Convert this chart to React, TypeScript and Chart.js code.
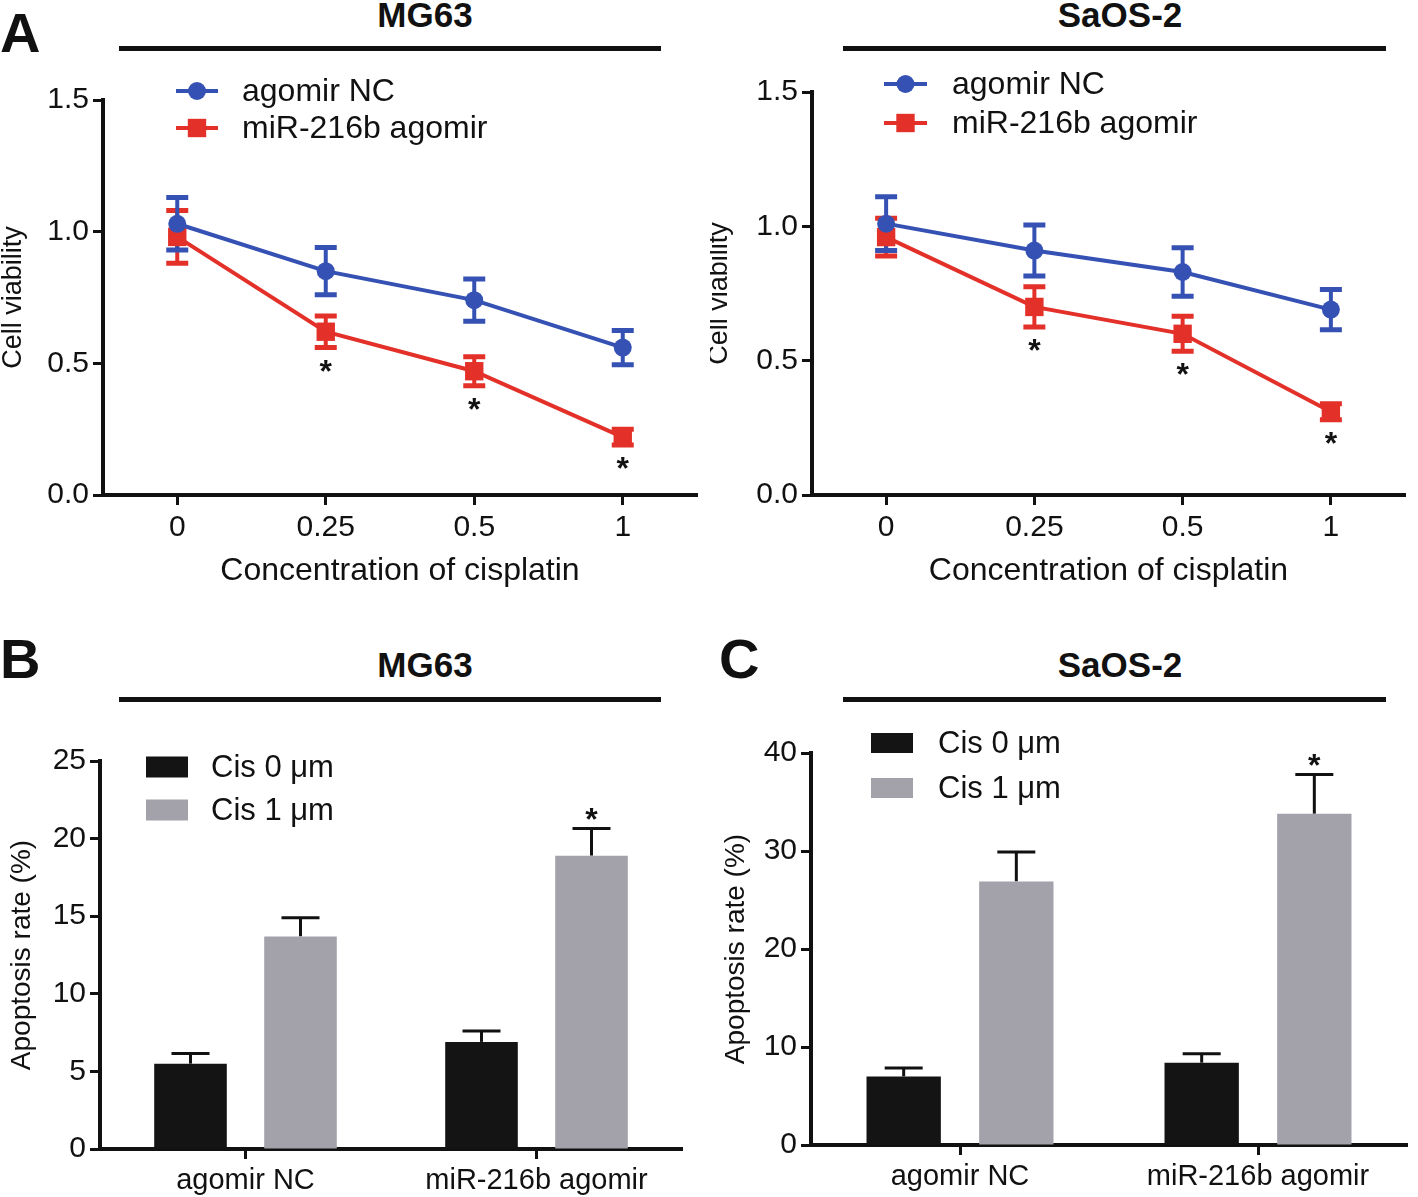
import React, { useEffect, useRef } from 'react';
import { Chart, registerables } from 'chart.js';

Chart.register(...registerables);

const FONT = "'Liberation Sans', Arial, Helvetica, sans-serif";
const INK = '#111111';
const BLUE = '#3551b3';
const RED = '#e3312a';
const BLACK_BAR = '#141414';
const GRAY_BAR = '#a3a2aa';

// ---------- Panel A: cell viability ----------
const concentrations = ['0', '0.25', '0.5', '1'];
const viabilityTicks = [0, 0.5, 1.0, 1.5];
const seriesNames = ['agomir NC', 'miR-216b agomir'];

const mg63NC = [1.03, 0.85, 0.74, 0.56];
const mg63NCErr = [0.1, 0.09, 0.08, 0.065];
const mg63Agomir = [0.98, 0.62, 0.47, 0.22];
const mg63AgomirErr = [0.1, 0.06, 0.055, 0.03];
const mg63Sig = [false, true, true, true];

const saosNC = [1.01, 0.91, 0.83, 0.69];
const saosNCErr = [0.1, 0.095, 0.09, 0.075];
const saosAgomir = [0.96, 0.7, 0.6, 0.31];
const saosAgomirErr = [0.07, 0.075, 0.065, 0.03];
const saosSig = [false, true, true, true];

// ---------- Panels B, C: apoptosis ----------
const groups = ['agomir NC', 'miR-216b agomir'];
const cisNames = ['Cis 0 μm', 'Cis 1 μm'];

const mg63Cis0 = [5.5, 6.9];
const mg63Cis0Err = [0.65, 0.7];
const mg63Cis1 = [13.7, 18.9];
const mg63Cis1Err = [1.2, 1.75];
const mg63Cis1Sig = [false, true];
const mg63ApoTicks = [0, 5, 10, 15, 20, 25];

const saosCis0 = [7.0, 8.4];
const saosCis0Err = [0.85, 0.9];
const saosCis1 = [26.9, 33.8];
const saosCis1Err = [3.0, 4.0];
const saosCis1Sig = [false, true];
const saosApoTicks = [0, 10, 20, 30, 40];

// ---------- plugin: error bars, asterisks, legend ----------
const overlayPlugin = {
  id: 'overlay',
  beforeDatasetsDraw(chart: any) {
    const ctx = chart.ctx;
    const yScale = chart.scales.y;
    const n = chart.data.datasets.length;
    for (let di = n - 1; di >= 0; di--) {
      const ds: any = chart.data.datasets[di];
      if (!ds.errors) continue;
      const meta = chart.getDatasetMeta(di);
      ds.data.forEach((v: number, i: number) => {
        const el = meta.data[i];
        if (!el) return;
        const x = el.x;
        const e = ds.errors[i] || 0;
        const yTop = yScale.getPixelForValue(v + e);
        const yBot = ds.errMode === 'up' ? yScale.getPixelForValue(v) : yScale.getPixelForValue(v - e);
        ctx.save();
        ctx.strokeStyle = ds.errColor;
        ctx.lineCap = 'butt';
        ctx.lineWidth = ds.errWidth;
        ctx.beginPath();
        ctx.moveTo(x, yTop);
        ctx.lineTo(x, yBot);
        ctx.stroke();
        ctx.lineWidth = ds.capThickness;
        ctx.beginPath();
        ctx.moveTo(x - ds.capWidth / 2, yTop);
        ctx.lineTo(x + ds.capWidth / 2, yTop);
        if (ds.errMode !== 'up') {
          ctx.moveTo(x - ds.capWidth / 2, yBot);
          ctx.lineTo(x + ds.capWidth / 2, yBot);
        }
        ctx.stroke();
        ctx.restore();
      });
    }
  },
  afterDraw(chart: any, _args: any, opts: any) {
    const ctx = chart.ctx;
    const yScale = chart.scales.y;
    chart.data.datasets.forEach((ds: any, di: number) => {
      if (!ds.sig) return;
      const meta = chart.getDatasetMeta(di);
      ds.data.forEach((v: number, i: number) => {
        if (!ds.sig[i]) return;
        const x = meta.data[i].x;
        const e = ds.errors ? ds.errors[i] : 0;
        const center = ds.errMode === 'up'
          ? yScale.getPixelForValue(v + e) - 17
          : yScale.getPixelForValue(v - e) + 16;
        ctx.save();
        ctx.fillStyle = INK;
        ctx.font = `bold 32px ${FONT}`;
        ctx.textAlign = 'center';
        ctx.textBaseline = 'alphabetic';
        ctx.fillText('*', x, center + 18);
        ctx.restore();
      });
    });
    const lg = opts && opts.legend;
    if (!lg) return;
    chart.data.datasets.forEach((ds: any, i: number) => {
      const cy = lg.y + i * lg.gap;
      ctx.save();
      if (chart.config.type === 'line') {
        ctx.strokeStyle = ds.borderColor;
        ctx.lineWidth = ds.borderWidth;
        ctx.beginPath();
        ctx.moveTo(lg.x, cy);
        ctx.lineTo(lg.x + lg.w, cy);
        ctx.stroke();
        ctx.fillStyle = ds.pointBackgroundColor;
        const mx = lg.x + lg.w / 2;
        if (ds.pointStyle === 'rect') {
          const s = ds.pointRadius * Math.SQRT1_2;
          ctx.fillRect(mx - s, cy - s, 2 * s, 2 * s);
        } else {
          ctx.beginPath();
          ctx.arc(mx, cy, ds.pointRadius, 0, Math.PI * 2);
          ctx.fill();
        }
      } else {
        ctx.fillStyle = ds.backgroundColor;
        ctx.fillRect(lg.x, cy - lg.h / 2, lg.w, lg.h);
      }
      ctx.fillStyle = INK;
      ctx.font = `${lg.size}px ${FONT}`;
      ctx.textAlign = 'left';
      ctx.textBaseline = 'middle';
      ctx.fillText(ds.label, lg.textX, cy + 1);
      ctx.restore();
    });
  },
};

function yAxis(ticks: number[], fmt: (v: number) => string, width: number, title: string, titleSize: number, titleLH: number, titlePad: number) {
  return {
    type: 'linear',
    min: ticks[0],
    max: ticks[ticks.length - 1],
    afterBuildTicks: (s: any) => {
      s.ticks = ticks.map((v) => ({ value: v }));
    },
    afterFit: (s: any) => {
      s.width = width;
    },
    grid: {
      display: true,
      drawOnChartArea: false,
      drawTicks: true,
      tickLength: 10,
      tickWidth: 3,
      tickColor: INK,
      color: INK,
    },
    border: { display: true, color: INK, width: 4 },
    ticks: {
      color: INK,
      font: { family: FONT, size: 30 },
      padding: 4,
      callback: (v: any) => fmt(Number(v)),
    },
    title: {
      display: true,
      text: title,
      color: INK,
      font: { family: FONT, size: titleSize, lineHeight: titleLH },
      padding: { top: titlePad, bottom: 0 },
    },
  };
}

function xAxis(height: number, tickSize: number, title?: string, titlePad = 0) {
  return {
    type: 'category',
    offset: true,
    afterFit: (s: any) => {
      s.height = height;
    },
    grid: {
      display: true,
      offset: false,
      drawOnChartArea: false,
      drawTicks: true,
      tickLength: 10,
      tickWidth: 3,
      tickColor: INK,
      color: INK,
    },
    border: { display: true, color: INK, width: 4 },
    ticks: {
      color: INK,
      font: { family: FONT, size: tickSize },
      padding: 5,
      maxRotation: 0,
      autoSkip: false,
    },
    title: title
      ? {
          display: true,
          text: title,
          color: INK,
          font: { family: FONT, size: 32, lineHeight: 1.2 },
          padding: { top: 0, bottom: titlePad },
        }
      : { display: false },
  };
}

function lineDataset(label: string, data: number[], errors: number[], color: string, style: string, radius: number, sig?: boolean[]) {
  return {
    label,
    data,
    errors,
    sig,
    errMode: 'both',
    errColor: color,
    errWidth: 4,
    capThickness: 5,
    capWidth: 22,
    borderColor: color,
    backgroundColor: color,
    borderWidth: 4,
    pointStyle: style,
    pointRadius: radius,
    pointBorderWidth: 0,
    pointBackgroundColor: color,
    tension: 0,
  };
}

function barDataset(label: string, data: number[], errors: number[], color: string, sig?: boolean[]) {
  return {
    label,
    data,
    errors,
    sig,
    errMode: 'up',
    errColor: INK,
    errWidth: 3,
    capThickness: 3,
    capWidth: 38,
    backgroundColor: color,
    borderWidth: 0,
    categoryPercentage: 0.756,
    barPercentage: 0.66,
  };
}

function viabilityConfig(nc: number[], ncErr: number[], ago: number[], agoErr: number[], sig: boolean[], pad: any, yWidth: number, titlePad: number, legend: any) {
  return {
    type: 'line',
    data: {
      labels: concentrations,
      datasets: [
        lineDataset(seriesNames[0], nc, ncErr, BLUE, 'circle', 9),
        lineDataset(seriesNames[1], ago, agoErr, RED, 'rect', 13, sig),
      ],
    },
    options: {
      responsive: false,
      animation: false,
      layout: { padding: pad },
      plugins: { legend: { display: false }, tooltip: { enabled: false }, overlay: { legend } },
      scales: {
        x: xAxis(105, 30, 'Concentration of cisplatin', 10),
        y: yAxis(viabilityTicks, (v) => v.toFixed(1), yWidth, 'Cell viability', 27, 1, titlePad),
      },
    },
    plugins: [overlayPlugin],
  };
}

function apoptosisConfig(c0: number[], c0Err: number[], c1: number[], c1Err: number[], sig: boolean[], ticks: number[], pad: any, yWidth: number, xHeight: number, titlePad: number, legend: any) {
  return {
    type: 'bar',
    data: {
      labels: groups,
      datasets: [
        barDataset(cisNames[0], c0, c0Err, BLACK_BAR),
        barDataset(cisNames[1], c1, c1Err, GRAY_BAR, sig),
      ],
    },
    options: {
      responsive: false,
      animation: false,
      layout: { padding: pad },
      plugins: { legend: { display: false }, tooltip: { enabled: false }, overlay: { legend } },
      scales: {
        x: xAxis(xHeight, 29),
        y: yAxis(ticks, (v) => String(v), yWidth, 'Apoptosis rate (%)', 28, 1.2, titlePad),
      },
    },
    plugins: [overlayPlugin],
  };
}

function ChartPanel({ left, top, width, height, makeConfig }: { left: number; top: number; width: number; height: number; makeConfig: () => any }) {
  const ref = useRef<HTMLCanvasElement>(null);
  useEffect(() => {
    const chart = new Chart(ref.current as HTMLCanvasElement, makeConfig());
    return () => chart.destroy();
  }, []);
  return (
    <div style={{ position: 'absolute', left, top, width, height }}>
      <canvas ref={ref} width={width} height={height} style={{ display: 'block', width, height }} />
    </div>
  );
}

function PanelLetter({ text, left, top }: { text: string; left: number; top: number }) {
  return (
    <div style={{ position: 'absolute', left, top, fontFamily: FONT, fontWeight: 'bold', fontSize: 56, lineHeight: '56px', color: INK }}>
      {text}
    </div>
  );
}

function Heading({ text, cx, top, ruleLeft, ruleRight, ruleTop }: { text: string; cx: number; top: number; ruleLeft: number; ruleRight: number; ruleTop: number }) {
  return (
    <>
      <div style={{ position: 'absolute', left: cx - 150, width: 300, top, textAlign: 'center', fontFamily: FONT, fontWeight: 'bold', fontSize: 35, lineHeight: '35px', color: INK }}>
        {text}
      </div>
      <div style={{ position: 'absolute', left: ruleLeft, top: ruleTop, width: ruleRight - ruleLeft, height: 5, background: INK }} />
    </>
  );
}

export default function App() {
  return (
    <div style={{ position: 'fixed', left: 0, top: 0, width: 1418, height: 1197, background: '#ffffff', overflow: 'hidden' }}>
      <PanelLetter text="A" left={0} top={5} />
      <PanelLetter text="B" left={0} top={631} />
      <PanelLetter text="C" left={719} top={631} />

      <Heading text="MG63" cx={425} top={-3} ruleLeft={119} ruleRight={661} ruleTop={46} />
      <Heading text="SaOS-2" cx={1120} top={-3} ruleLeft={843} ruleRight={1386} ruleTop={46} />
      <Heading text="MG63" cx={425} top={647} ruleLeft={119} ruleRight={661} ruleTop={697} />
      <Heading text="SaOS-2" cx={1120} top={647} ruleLeft={843} ruleRight={1386} ruleTop={697} />

      <ChartPanel
        left={0}
        top={60}
        width={710}
        height={540}
        makeConfig={() =>
          viabilityConfig(mg63NC, mg63NCErr, mg63Agomir, mg63AgomirErr, mg63Sig, { top: 40, right: 13, left: 0, bottom: 0 }, 103, 0, {
            x: 176, y: 31, gap: 37, w: 42, h: 0, textX: 242, size: 32,
          })
        }
      />
      <ChartPanel
        left={710}
        top={60}
        width={708}
        height={540}
        makeConfig={() =>
          viabilityConfig(saosNC, saosNCErr, saosAgomir, saosAgomirErr, saosSig, { top: 32, right: 2, left: 0, bottom: 0 }, 102, -4, {
            x: 174, y: 24, gap: 39, w: 43, h: 0, textX: 242, size: 32,
          })
        }
      />
      <ChartPanel
        left={0}
        top={720}
        width={710}
        height={477}
        makeConfig={() =>
          apoptosisConfig(mg63Cis0, mg63Cis0Err, mg63Cis1, mg63Cis1Err, mg63Cis1Sig, mg63ApoTicks, { top: 41, right: 28, left: 0, bottom: 0 }, 100, 48, 5, {
            x: 146, y: 47, gap: 43, w: 42, h: 21, textX: 211, size: 31,
          })
        }
      />
      <ChartPanel
        left={710}
        top={720}
        width={708}
        height={477}
        makeConfig={() =>
          apoptosisConfig(saosCis0, saosCis0Err, saosCis1, saosCis1Err, saosCis1Sig, saosApoTicks, { top: 33, right: 11, left: 0, bottom: 0 }, 101, 52, 9, {
            x: 161, y: 23, gap: 45, w: 42, h: 20, textX: 228, size: 31,
          })
        }
      />
    </div>
  );
}
